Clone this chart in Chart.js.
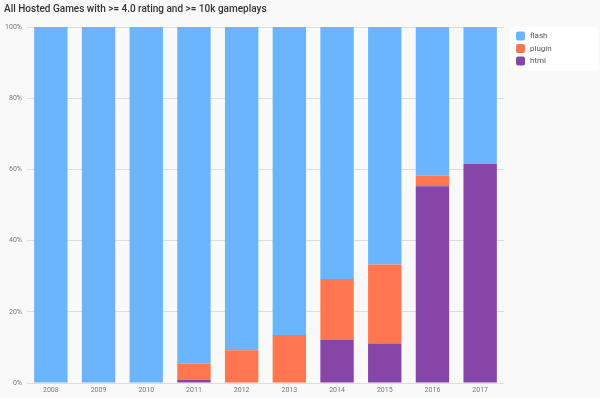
<!DOCTYPE html>
<html>
<head>
<meta charset="utf-8">
<script src="https://cdn.jsdelivr.net/npm/chart.js@4"></script>
<style>
  html, body { margin: 0; padding: 0; background: #f9f9f9; }
  #wrap { width: 600px; height: 398px; }
</style>
</head>
<body>
<div id="wrap"><canvas id="games"></canvas></div>
<script>
var years = ["2008", "2009", "2010", "2011", "2012", "2013", "2014", "2015", "2016", "2017"];

// percent of games per year
var html = [0, 0, 0, 0.9, 0, 0, 12.1, 11.1, 55.3, 61.5];
var plugin = [0, 0, 0, 4.6, 9.2, 13.5, 17.1, 22.2, 3.0, 0];
var flash = [100, 100, 100, 94.5, 90.8, 86.5, 70.8, 66.7, 41.7, 38.5];

var yTicks = [0, 20, 40, 60, 80, 100];

// legend is drawn by hand so it sits in its own white box on the right
var sideLegend = {
  id: 'sideLegend',
  afterDraw: function(chart) {
    var ctx = chart.ctx;
    ctx.save();
    ctx.fillStyle = '#ffffff';
    ctx.beginPath();
    ctx.roundRect(510, 27, 88, 44, 4);
    ctx.fill();
    var items = chart.data.datasets.slice().reverse();
    ctx.font = '8px Roboto';
    ctx.textBaseline = 'middle';
    for (i = 0; i < items.length; i++) {
      var y = 36 + i * 12.5;
      ctx.fillStyle = items[i].backgroundColor;
      ctx.beginPath();
      ctx.roundRect(516, y - 4.5, 9, 9, 2);
      ctx.fill();
      ctx.fillStyle = '#555';
      ctx.fillText(items[i].label, 530, y);
    }
    ctx.restore();
  }
};

new Chart(document.getElementById("games"), {
  type: 'bar',
  data: {
    labels: years,
    datasets: [
      { label: "html", data: html, backgroundColor: "#8845a8" },
      { label: "plugin", data: plugin, backgroundColor: "#ff7650" },
      { label: "flash", data: flash, backgroundColor: "#6bb5ff" }
    ]
  },
  options: {
    responsive: true,
    maintainAspectRatio: false,
    animation: false,
    layout: { padding: { left: 4, right: 96, top: 0, bottom: 0 } },
    datasets: { bar: { barPercentage: 0.7, categoryPercentage: 1 } },
    scales: {
      x: {
        stacked: true,
        grid: { display: false, drawTicks: false },
        border: { display: false },
        ticks: { font: { family: 'Roboto', size: 7 }, color: '#777', padding: 3, maxRotation: 0 },
        afterFit: function(s) { s.height = 15; }
      },
      y: {
        stacked: true,
        min: 0,
        max: 100,
        afterBuildTicks: function(s) { s.ticks = yTicks.map(function(v) { return { value: v }; }); },
        grid: { color: '#dddddd', drawTicks: false },
        border: { display: false },
        ticks: {
          font: { family: 'Roboto', size: 7 },
          color: '#777',
          padding: 5,
          callback: function(v) { return v + '%'; }
        },
        afterFit: function(s) { s.width = 23; }
      }
    },
    plugins: {
      legend: { display: false },
      tooltip: { enabled: false },
      title: {
        display: true,
        text: 'All Hosted Games with >= 4.0 rating and >= 10k gameplays',
        align: 'start',
        color: '#333',
        font: { family: 'Roboto', size: 10, weight: '500' },
        padding: { top: 3, bottom: 12 }
      }
    }
  },
  plugins: [sideLegend]
});
</script>
</body>
</html>
